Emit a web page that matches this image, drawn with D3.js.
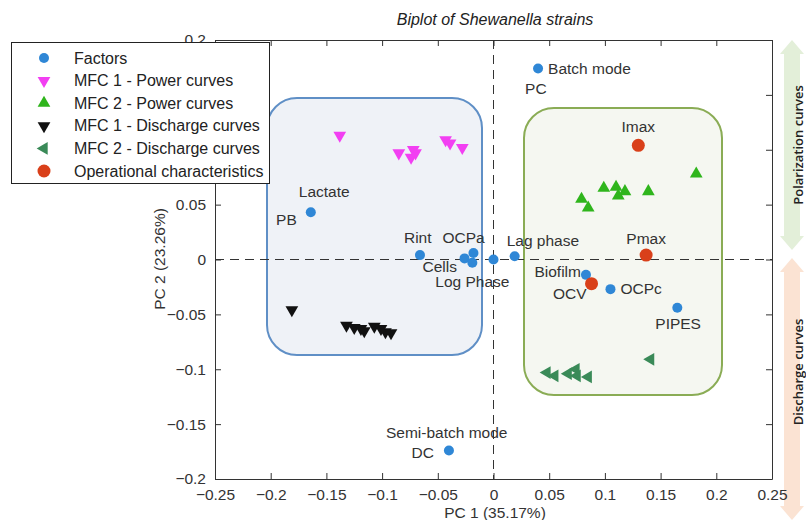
<!DOCTYPE html>
<html>
<head>
<meta charset="UTF-8">
<script src="https://cdnjs.cloudflare.com/ajax/libs/d3/7.8.5/d3.min.js"></script>
<style>
  body { margin: 0; background: #fff; }
  svg { display: block; font-family: "Liberation Sans", Arial, sans-serif; }
</style>
</head>
<body>
<svg id="chart" width="806" height="520"></svg>
<script>
// --- data ---
const xTicks = [-0.25, -0.2, -0.15, -0.1, -0.05, 0, 0.05, 0.1, 0.15, 0.2, 0.25];
const yTicks = [-0.2, -0.15, -0.1, -0.05, 0, 0.05, 0.1, 0.15, 0.2];
// y tick labels that sit under the legend box
const yHidden = [0.1, 0.15];

// factors: [x, y]
const factorPts = [[0.040, 0.174], [-0.164, 0.043], [-0.066, 0.004], [-0.018, 0.006],
  [-0.026, 0.001], [-0.019, -0.003], [0.0, 0.0], [0.019, 0.003], [0.083, -0.014],
  [0.105, -0.027], [0.165, -0.044], [-0.040, -0.174]];
const opPts = [[0.130, 0.104], [0.137, 0.004], [0.088, -0.022]];
const mfc1Power = [[-0.138, 0.113], [-0.085, 0.097], [-0.072, 0.100], [-0.074, 0.093],
  [-0.070, 0.097], [-0.043, 0.109], [-0.039, 0.106], [-0.028, 0.102]];
const mfc2Power = [[0.182, 0.078], [0.099, 0.065], [0.110, 0.066], [0.118, 0.062],
  [0.112, 0.058], [0.139, 0.062], [0.079, 0.055], [0.085, 0.047]];
const mfc1Discharge = [[-0.181, -0.046], [-0.132, -0.060], [-0.125, -0.062], [-0.119, -0.063],
  [-0.116, -0.065], [-0.107, -0.061], [-0.101, -0.063], [-0.097, -0.066], [-0.092, -0.067]];
const mfc2Discharge = [[0.048, -0.103], [0.055, -0.106], [0.067, -0.104], [0.074, -0.100],
  [0.075, -0.106], [0.085, -0.107], [0.141, -0.091]];

// labels: [text, x, y, dx, dy, anchor]
const pointLabels = [
  ["Batch mode", 0.040, 0.174, 10, 5, "start"],
  ["PC", 0.040, 0.174, -13, 25, "start"],
  ["Lactate", -0.164, 0.043, -12, -15, "start"],
  ["PB", -0.164, 0.043, -14, 13, "end"],
  ["Rint", -0.066, 0.004, -16, -12, "start"],
  ["OCPa", -0.018, 0.006, -31, -10, "start"],
  ["Cells", -0.026, 0.001, -42, 14, "start"],
  ["Log Phase", -0.019, -0.003, -37, 24, "start"],
  ["Lag phase", 0.019, 0.003, -8, -10, "start"],
  ["Biofilm", 0.083, -0.014, -5, 2, "end"],
  ["OCV", 0.088, -0.022, -5, 15, "end"],
  ["OCPc", 0.105, -0.027, 10, 5, "start"],
  ["PIPES", 0.165, -0.044, -22, 21, "start"],
  ["Imax", 0.130, 0.104, 0, -13, "middle"],
  ["Pmax", 0.137, 0.004, 0, -11, "middle"],
  ["Semi-batch mode", -0.040, -0.174, -63, -12, "start"],
  ["DC", -0.040, -0.174, -15, 8, "end"]
];

const legendItems = ["Factors", "MFC 1 - Power curves", "MFC 2 - Power curves",
  "MFC 1 - Discharge curves", "MFC 2 - Discharge curves", "Operational characteristics"];

const svg = d3.select("#chart");
const pL = 215, pR = 772, pT = 40, pB = 479;
const x = d3.scaleLinear().domain([-0.25, 0.25]).range([pL, pR]);
const y = d3.scaleLinear().domain([-0.2, 0.2]).range([pB, pT]);

const cBlue = "#2f87d6", cRed = "#d9401a", cMag = "#f23ff2", cGreen = "#2fb51c",
      cDark = "#111", cDkGreen = "#3a8a58";
const fs = "15.5px";

// side arrows
function dblArrow(x0, y0, y1, fill) {
  const w = 8, hw = 12, hh = 14;
  const p = [[x0, y0], [x0 + hw, y0 + hh], [x0 + w, y0 + hh], [x0 + w, y1 - hh], [x0 + hw, y1 - hh],
    [x0, y1], [x0 - hw, y1 - hh], [x0 - w, y1 - hh], [x0 - w, y0 + hh], [x0 - hw, y0 + hh]];
  svg.append("polygon").attr("points", p.map(d => d.join(",")).join(" ")).attr("fill", fill);
}
dblArrow(792, 40, 250, "#e3efd9");
dblArrow(792, 258, 520, "#fbe3d3");
svg.append("text").attr("transform", "translate(803,145) rotate(-90)")
  .attr("text-anchor", "middle").style("font-family", "'Open Sans', sans-serif")
  .style("font-size", "13px").style("font-weight", 600).attr("fill", "#222")
  .text("Polarization curves");
svg.append("text").attr("transform", "translate(803,372) rotate(-90)")
  .attr("text-anchor", "middle").style("font-family", "'Open Sans', sans-serif")
  .style("font-size", "13px").style("font-weight", 600).attr("fill", "#222")
  .text("Discharge curves");

// cluster boxes
svg.append("rect").attr("x", 267).attr("y", 98).attr("width", 215).attr("height", 257)
  .attr("rx", 30).attr("fill", "#eff2f7").attr("stroke", "#5f8fc6").attr("stroke-width", 2);
svg.append("rect").attr("x", 524).attr("y", 108).attr("width", 198).attr("height", 287)
  .attr("rx", 30).attr("fill", "#f5f7f1").attr("stroke", "#8aac55").attr("stroke-width", 2);

// zero lines
svg.append("line").attr("x1", x(0)).attr("x2", x(0)).attr("y1", pT).attr("y2", pB)
  .attr("stroke", "#333").attr("stroke-dasharray", "9,6");
svg.append("line").attr("x1", pL).attr("x2", pR).attr("y1", y(0)).attr("y2", y(0))
  .attr("stroke", "#333").attr("stroke-dasharray", "9,6");

// axes (ticks pointing inward, box)
const axStyle = g => {
  g.selectAll("path, line").attr("stroke", "#333");
  g.selectAll("text").attr("fill", "#333").style("font-size", fs)
    .style("font-family", "'Liberation Sans', Arial, sans-serif");
};
svg.append("g").attr("transform", `translate(0,${pB})`)
  .call(d3.axisBottom(x).tickValues(xTicks).tickFormat(d3.format("")).tickSizeInner(-6).tickSizeOuter(0).tickPadding(10))
  .call(axStyle);
svg.append("g").attr("transform", `translate(0,${pT})`)
  .call(d3.axisTop(x).tickValues(xTicks).tickFormat("").tickSizeInner(-6).tickSizeOuter(0))
  .call(axStyle);
svg.append("g").attr("transform", `translate(${pL},0)`)
  .call(d3.axisLeft(y).tickValues(yTicks)
    .tickFormat(d => yHidden.includes(d) ? "" : d3.format("")(d))
    .tickSizeInner(-6).tickSizeOuter(0).tickPadding(9))
  .call(axStyle);
svg.append("g").attr("transform", `translate(${pR},0)`)
  .call(d3.axisRight(y).tickValues(yTicks).tickFormat("").tickSizeInner(-6).tickSizeOuter(0))
  .call(axStyle);

// titles
svg.append("text").attr("x", 495).attr("y", 25).attr("text-anchor", "middle")
  .style("font-size", "16px").style("font-style", "italic").attr("fill", "#222")
  .text("Biplot of Shewanella strains");
svg.append("text").attr("x", 495).attr("y", 518).attr("text-anchor", "middle")
  .style("font-size", fs).attr("fill", "#333").text("PC 1 (35.17%)");
svg.append("text").attr("transform", "translate(165,259) rotate(-90)").attr("text-anchor", "middle")
  .style("font-size", fs).attr("fill", "#333").text("PC 2 (23.26%)");

// markers
const triDown = d3.symbol().type(d3.symbolTriangle).size(70);
function drawTri(data, color, rot) {
  svg.append("g").selectAll("path").data(data).join("path")
    .attr("d", triDown())
    .attr("transform", d => `translate(${x(d[0])},${y(d[1])}) rotate(${rot})`)
    .attr("fill", color);
}
drawTri(mfc1Power, cMag, 180);
drawTri(mfc2Power, cGreen, 0);
drawTri(mfc1Discharge, cDark, 180);
drawTri(mfc2Discharge, cDkGreen, -90);

svg.append("g").selectAll("circle").data(factorPts).join("circle")
  .attr("cx", d => x(d[0])).attr("cy", d => y(d[1])).attr("r", 5).attr("fill", cBlue);
svg.append("g").selectAll("circle").data(opPts).join("circle")
  .attr("cx", d => x(d[0])).attr("cy", d => y(d[1])).attr("r", 6.5).attr("fill", cRed);

svg.append("g").selectAll("text").data(pointLabels).join("text")
  .attr("x", d => x(d[1]) + d[3]).attr("y", d => y(d[2]) + d[4])
  .attr("text-anchor", d => d[5]).style("font-size", fs).attr("fill", "#333")
  .text(d => d[0]);

// legend
const lg = svg.append("g");
lg.append("rect").attr("x", 11.5).attr("y", 42.5).attr("width", 258).attr("height", 141)
  .attr("fill", "#fff").attr("stroke", "#222");
const markers = [
  g => g.append("circle").attr("r", 5).attr("fill", cBlue),
  g => g.append("path").attr("d", triDown()).attr("transform", "rotate(180)").attr("fill", cMag),
  g => g.append("path").attr("d", triDown()).attr("fill", cGreen),
  g => g.append("path").attr("d", triDown()).attr("transform", "rotate(180)").attr("fill", cDark),
  g => g.append("path").attr("d", triDown()).attr("transform", "rotate(-90)").attr("fill", cDkGreen),
  g => g.append("circle").attr("r", 6.5).attr("fill", cRed)
];
legendItems.forEach((t, i) => {
  const yy = 58 + i * 22.6;
  const g = lg.append("g").attr("transform", `translate(44,${yy})`);
  markers[i](g);
  lg.append("text").attr("x", 74).attr("y", yy + 5.5).style("font-size", "16px")
    .attr("fill", "#222").text(t);
});
</script>
</body>
</html>
